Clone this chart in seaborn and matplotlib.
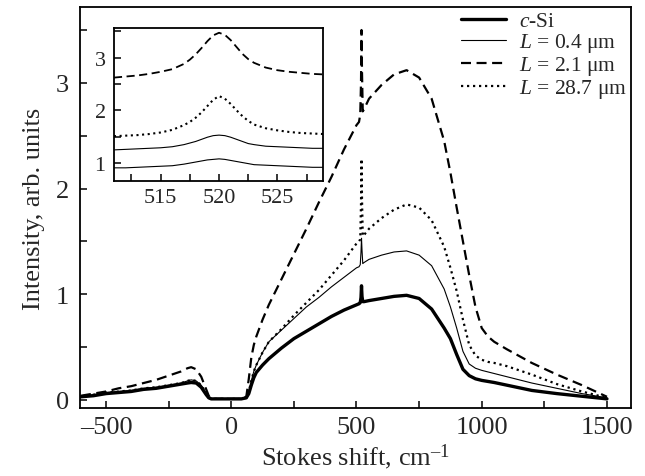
import matplotlib
matplotlib.use("Agg")
import matplotlib.pyplot as plt
from matplotlib.ticker import MultipleLocator
import seaborn as sns

# main spectra, Stokes shift in cm-1
shift = [-600, -550, -500, -450, -400, -350, -300, -250, -200, -175, -160, -140, -120,
         -100, -90, -80, -50, 0, 40, 60, 70, 80, 90, 100, 125, 150, 200, 250, 300, 350,
         400, 450, 500, 510, 515, 518, 520, 522, 525, 530, 550, 600, 650, 700, 750, 800,
         850, 875, 900, 925, 950, 975, 1000, 1025, 1050, 1100, 1200, 1300, 1400, 1500]

c_si = [0.03, 0.04, 0.06, 0.07, 0.08, 0.10, 0.11, 0.13, 0.15, 0.16, 0.165, 0.16, 0.12,
        0.05, 0.02, 0.01, 0.01, 0.01, 0.01, 0.02, 0.06, 0.14, 0.21, 0.26, 0.33, 0.39, 0.49,
        0.58, 0.65, 0.72, 0.79, 0.85, 0.90, 0.91, 0.92, 0.97, 1.08, 0.98, 0.93, 0.93, 0.94,
        0.96, 0.98, 0.99, 0.96, 0.86, 0.68, 0.58, 0.43, 0.29, 0.23, 0.20, 0.185, 0.175,
        0.165, 0.14, 0.09, 0.06, 0.035, 0.01]

l_04 = [0.03, 0.05, 0.07, 0.08, 0.09, 0.11, 0.12, 0.14, 0.16, 0.18, 0.19, 0.18, 0.14,
        0.06, 0.03, 0.01, 0.01, 0.01, 0.01, 0.02, 0.08, 0.18, 0.27, 0.33, 0.45, 0.55, 0.66,
        0.77, 0.88, 0.97, 1.07, 1.16, 1.25, 1.26, 1.28, 1.40, 1.53, 1.42, 1.29, 1.30, 1.33,
        1.37, 1.40, 1.41, 1.37, 1.27, 1.05, 0.88, 0.68, 0.46, 0.34, 0.30, 0.28, 0.265,
        0.25, 0.22, 0.16, 0.11, 0.06, 0.02]

l_21 = [0.04, 0.06, 0.08, 0.11, 0.13, 0.16, 0.19, 0.23, 0.27, 0.30, 0.31, 0.29, 0.22,
        0.10, 0.04, 0.01, 0.01, 0.01, 0.01, 0.03, 0.20, 0.40, 0.52, 0.60, 0.76, 0.90, 1.14,
        1.38, 1.62, 1.87, 2.11, 2.37, 2.60, 2.63, 2.70, 3.00, 3.50, 3.10, 2.73, 2.75, 2.85,
        2.98, 3.08, 3.12, 3.05, 2.85, 2.45, 2.15, 1.82, 1.50, 1.18, 0.88, 0.68, 0.60,
        0.55, 0.48, 0.35, 0.24, 0.14, 0.03]

l_287 = [0.03, 0.05, 0.07, 0.08, 0.09, 0.11, 0.12, 0.14, 0.16, 0.18, 0.19, 0.18, 0.14,
         0.06, 0.03, 0.01, 0.01, 0.01, 0.01, 0.02, 0.08, 0.18, 0.27, 0.33, 0.45, 0.55, 0.67,
         0.80, 0.92, 1.04, 1.18, 1.32, 1.48, 1.50, 1.52, 1.85, 2.28, 1.90, 1.55, 1.56, 1.62,
         1.72, 1.80, 1.85, 1.82, 1.70, 1.45, 1.25, 1.03, 0.76, 0.52, 0.42, 0.38, 0.36,
         0.35, 0.32, 0.24, 0.15, 0.08, 0.02]

# inset: zoom on the 520 cm-1 line
shift_in = [511, 512, 513, 514, 515, 516, 517, 517.5, 518, 518.5, 519, 519.5, 520,
            520.5, 521, 521.5, 522, 522.5, 523, 524, 525, 526, 527, 528, 529]
c_si_in = [0.91, 0.91, 0.92, 0.93, 0.94, 0.95, 0.98, 1.00, 1.02, 1.04, 1.06, 1.07, 1.08,
           1.07, 1.05, 1.03, 1.01, 0.99, 0.97, 0.96, 0.95, 0.94, 0.93, 0.92, 0.92]
l_04_in = [1.25, 1.26, 1.27, 1.28, 1.29, 1.31, 1.35, 1.38, 1.41, 1.45, 1.49, 1.52, 1.53,
           1.52, 1.49, 1.45, 1.41, 1.37, 1.35, 1.32, 1.31, 1.30, 1.29, 1.28, 1.28]
l_21_in = [2.62, 2.64, 2.66, 2.69, 2.73, 2.78, 2.88, 2.96, 3.06, 3.18, 3.31, 3.42, 3.47,
           3.43, 3.33, 3.20, 3.07, 2.97, 2.90, 2.81, 2.76, 2.73, 2.71, 2.69, 2.68]
l_287_in = [1.51, 1.52, 1.53, 1.55, 1.58, 1.63, 1.72, 1.78, 1.86, 1.96, 2.08, 2.20, 2.27,
            2.22, 2.12, 2.00, 1.89, 1.80, 1.73, 1.66, 1.62, 1.59, 1.57, 1.56, 1.55]

labels = [r"$c$-Si", r"$L$ = 0.4 μm", r"$L$ = 2.1 μm", r"$L$ = 28.7 μm"]

sns.set_style("ticks")
plt.rcParams["font.family"] = ["Liberation Serif", "DejaVu Serif"]
plt.rcParams["mathtext.fontset"] = "custom"
plt.rcParams["mathtext.rm"] = "Liberation Serif"
plt.rcParams["mathtext.it"] = "Liberation Serif:italic"

# (main width, inset width, linestyle)
styles = [(2.4, 0.8, "-"),
          (0.8, 0.8, "-"),
          (1.6, 1.3, (0, (4.5, 2.5))),
          (1.6, 1.5, (0, (1, 1.7)))]


def style_axes(ax, size):
    ax.tick_params(axis="both", which="both", direction="in", length=5, width=1.1,
                   labelsize=size, top=False, right=False, color="black")
    for sp in ax.spines.values():
        sp.set_linewidth(1.3)
        sp.set_color("black")


fig = plt.figure(figsize=(6.45, 4.77), dpi=100)
ax = fig.add_axes([0.124, 0.1426, 0.8543, 0.8407])

for y, lab, (lw, _, ls) in zip([c_si, l_04, l_21, l_287], labels, styles):
    sns.lineplot(x=shift, y=y, ax=ax, color="black", label=lab, sort=False,
                 estimator=None, linewidth=lw, linestyle=ls)

ax.set_xlim(-604, 1596)
ax.set_ylim(-0.076, 3.718)
ax.xaxis.set_minor_locator(MultipleLocator(250))
ax.yaxis.set_major_locator(MultipleLocator(1))
ax.yaxis.set_minor_locator(MultipleLocator(0.5))
ax.set_xticks([-500, 0, 500, 1000, 1500])
ax.set_xticklabels(["–500", "0", "500", "1000", "1500"])
style_axes(ax, 19)
ax.tick_params(axis="x", pad=6)
ax.tick_params(axis="y", pad=8)
ax.set_xlabel(r"Stokes shift, cm$^{–1}$", fontsize=19, labelpad=2)
ax.set_ylabel("Intensity, arb. units", fontsize=19, labelpad=8)

ax.legend(loc="upper right", bbox_to_anchor=(1.0, 1.0), frameon=False, fontsize=15.5,
          handlelength=2.1, handletextpad=0.6, labelspacing=0.0, borderpad=0.1,
          borderaxespad=0.1)

axin = fig.add_axes([0.1767, 0.6184, 0.324, 0.3208])
for y, (_, lw, ls) in zip([c_si_in, l_04_in, l_21_in, l_287_in], styles):
    sns.lineplot(x=shift_in, y=y, ax=axin, color="black", sort=False, estimator=None,
                 linewidth=lw, linestyle=ls)
axin.set_xlim(511, 528.9)
axin.set_ylim(0.66, 3.56)
axin.xaxis.set_major_locator(MultipleLocator(5))
axin.xaxis.set_minor_locator(MultipleLocator(2.5))
axin.yaxis.set_major_locator(MultipleLocator(1))
axin.yaxis.set_minor_locator(MultipleLocator(0.5))
axin.set_xlabel("")
axin.set_ylabel("")
style_axes(axin, 16)
axin.tick_params(axis="x", pad=5)
axin.tick_params(axis="y", pad=6)

fig.savefig("out.png", dpi=100)
